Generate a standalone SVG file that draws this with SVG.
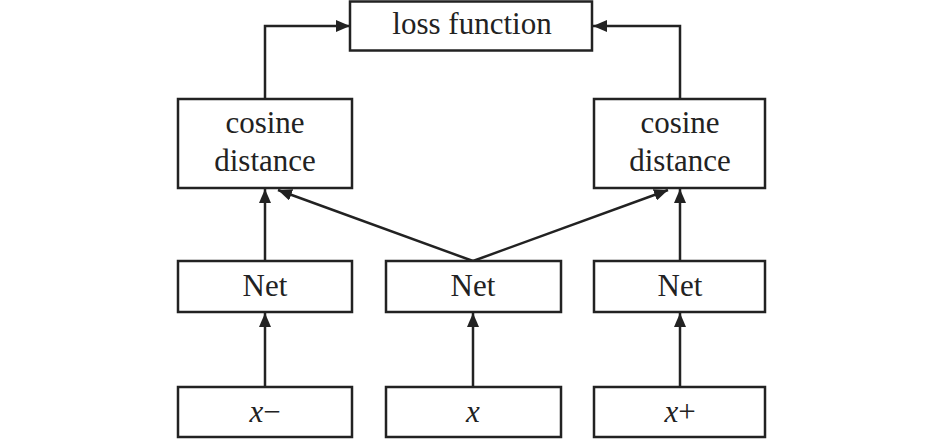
<svg xmlns="http://www.w3.org/2000/svg" width="945" height="439" viewBox="0 0 945 439">
<style>
.box{fill:#fff;stroke:#222;stroke-width:2.5}
.t{font-family:"Liberation Serif","Times New Roman",serif;font-size:31px;fill:#222;text-anchor:middle}
.c{fill:none;stroke:#222;stroke-width:2.5}
</style>
<defs>
<marker id="ah" viewBox="0 0 14 12" refX="14" refY="6" markerWidth="14" markerHeight="12" markerUnits="userSpaceOnUse" orient="auto">
<path d="M0,0 L14,6 L0,12 Z" fill="#222"/>
</marker>
</defs>
<rect width="945" height="439" fill="#fff"/>
<g id="connectors">
<path class="c" d="M265,98 V26 H350" marker-end="url(#ah)"/>
<path class="c" d="M680,98 V26 H593" marker-end="url(#ah)"/>
<path class="c" d="M265,261 V189" marker-end="url(#ah)"/>
<path class="c" d="M680,261 V189" marker-end="url(#ah)"/>
<path class="c" d="M473,261 L278,190" marker-end="url(#ah)"/>
<path class="c" d="M473,261 L668,190" marker-end="url(#ah)"/>
<path class="c" d="M265,387 V313" marker-end="url(#ah)"/>
<path class="c" d="M473,387 V313" marker-end="url(#ah)"/>
<path class="c" d="M680,387 V313" marker-end="url(#ah)"/>
</g>
<g id="loss"><rect class="box" x="350" y="1.5" width="242" height="49"/><text class="t" x="472" y="34">loss function</text></g>
<g id="cos1"><rect class="box" x="178" y="99" width="174" height="89"/><text class="t" x="265" y="133">cosine</text><text class="t" x="265" y="171">distance</text></g>
<g id="cos2"><rect class="box" x="594" y="99" width="171" height="89"/><text class="t" x="680" y="133">cosine</text><text class="t" x="680" y="171">distance</text></g>
<g id="net1"><rect class="box" x="178" y="261" width="174" height="51"/><text class="t" x="265" y="296">Net</text></g>
<g id="net2"><rect class="box" x="386" y="261" width="175" height="51"/><text class="t" x="473" y="296">Net</text></g>
<g id="net3"><rect class="box" x="594" y="261" width="171" height="51"/><text class="t" x="680" y="296">Net</text></g>
<g id="in1"><rect class="box" x="178" y="387" width="174" height="50"/><text class="t" x="265" y="422"><tspan font-style="italic">x</tspan>−</text></g>
<g id="in2"><rect class="box" x="386" y="387" width="175" height="50"/><text class="t" x="473" y="422" font-style="italic">x</text></g>
<g id="in3"><rect class="box" x="594" y="387" width="171" height="50"/><text class="t" x="680" y="422"><tspan font-style="italic">x</tspan>+</text></g>
</svg>
